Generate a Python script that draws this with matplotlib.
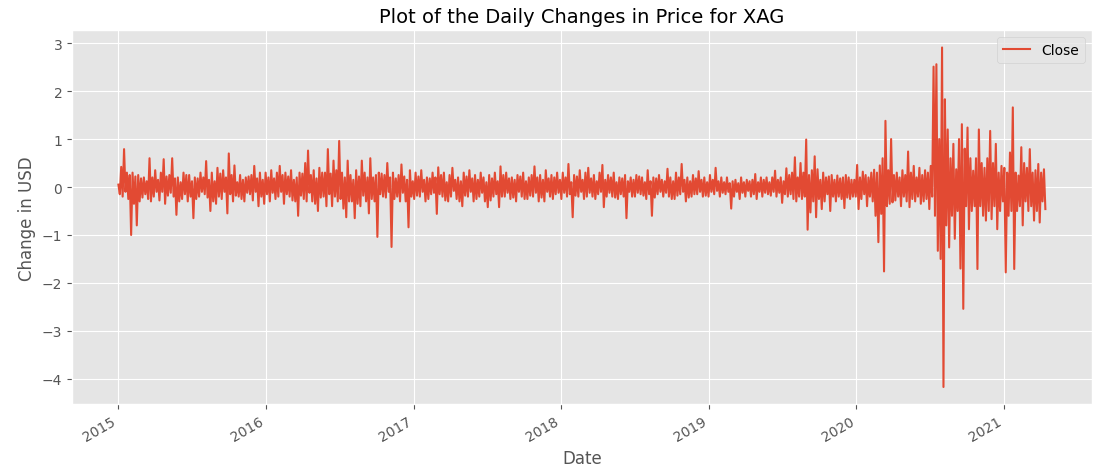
import matplotlib
matplotlib.use("Agg")
import matplotlib.pyplot as plt
import matplotlib.dates as mdates
import pandas as pd

plt.style.use("ggplot")

title = "Plot of the Daily Changes in Price for XAG"
xlabel = "Date"
ylabel = "Change in USD"
series_name = "Close"
start_date = "2015-01-02"
step = "84h"

y2015 = [0.05, -0.15, 0.42, -0.20, 0.79, -0.10, 0.30, -0.25, 0.25, -1.00,
         0.30, -0.35, 0.22, -0.80, 0.25, -0.30, 0.18, -0.22, 0.20, -0.15,
         0.12, -0.25, 0.60, -0.30, 0.20, -0.20, 0.35, -0.10, 0.15, -0.28,
         0.30, -0.10, 0.58, -0.35, 0.22, -0.18, 0.25, -0.12, 0.60, -0.20,
         0.18, -0.58, 0.20, -0.30, 0.10, -0.25, 0.30, -0.15, 0.25, -0.30,
         0.25, -0.20, 0.12, -0.65, 0.20, -0.25, 0.18, -0.20, 0.30, -0.10,
         0.20, -0.15, 0.54, -0.22, 0.15, -0.50, 0.30, -0.30, 0.12, -0.35,
         0.40, -0.20, 0.28, -0.25, 0.35, -0.10, 0.20, -0.55, 0.70, -0.15,
         0.25, -0.30, 0.45, -0.18, 0.10, -0.20, 0.25, -0.25, 0.15, -0.30,
         0.20, -0.12, 0.22, -0.15, 0.25, -0.28, 0.44, -0.10, 0.18, -0.40,
         0.30, -0.20, 0.15, -0.35]
y2016 = [0.30, -0.15, 0.20, -0.30, 0.35, -0.12, 0.18, -0.25, 0.30, -0.20,
         0.44, -0.10, 0.25, -0.35, 0.30, -0.15, 0.22, -0.20, 0.35, -0.28,
         0.15, -0.30, 0.20, -0.60, 0.30, -0.18, 0.28, -0.25, 0.50, -0.30,
         0.76, -0.12, 0.25, -0.30, 0.35, -0.35, 0.18, -0.50, 0.40, -0.22,
         0.30, -0.20, 0.30, -0.40, 0.79, -0.15, 0.28, -0.40, 0.55, -0.20,
         0.35, -0.30, 0.96, -0.25, 0.30, -0.45, 0.20, -0.63, 0.55, -0.30,
         0.25, -0.30, 0.15, -0.65, 0.35, -0.35, 0.22, -0.40, 0.55, -0.18,
         0.30, -0.30, 0.20, -0.55, 0.60, -0.25, 0.20, -0.30, 0.25, -1.04,
         0.30, -0.15, 0.28, -0.20, 0.25, -0.22, 0.50, -0.10, 0.20, -1.25,
         0.30, -0.25, 0.18, -0.20, 0.25, -0.30, 0.47, -0.12, 0.22, -0.30,
         0.15, -0.84, 0.35, -0.20]
y2017 = [0.12, -0.25, 0.30, -0.18, 0.22, -0.20, 0.35, -0.10, 0.15, -0.30,
         0.20, -0.25, 0.18, -0.15, 0.30, -0.12, 0.20, -0.56, 0.41, -0.15,
         0.25, -0.20, 0.30, -0.28, 0.10, -0.30, 0.25, -0.20, 0.40, -0.08,
         0.15, -0.25, 0.20, -0.30, 0.12, -0.40, 0.30, -0.18, 0.22, -0.20,
         0.35, -0.10, 0.18, -0.30, 0.25, -0.25, 0.15, -0.20, 0.30, -0.12,
         0.20, -0.30, 0.10, -0.42, 0.25, -0.28, 0.18, -0.20, 0.30, -0.15,
         0.12, -0.42, 0.43, -0.20, 0.25, -0.20, 0.30, -0.12, 0.18, -0.25,
         0.20, -0.22, 0.15, -0.30, 0.25, -0.10, 0.22, -0.20, 0.30, -0.25,
         0.12, -0.25, 0.20, -0.18, 0.25, -0.20, 0.43, -0.12, 0.20, -0.30,
         0.25, -0.22, 0.15, -0.30, 0.35, -0.10, 0.18, -0.20, 0.25, -0.25,
         0.20, -0.15, 0.30, -0.12]
y2018 = [0.15, -0.25, 0.30, -0.12, 0.20, -0.20, 0.48, -0.15, 0.10, -0.63,
         0.25, -0.18, 0.22, -0.20, 0.35, -0.10, 0.15, -0.25, 0.30, -0.20,
         0.40, -0.12, 0.18, -0.20, 0.25, -0.25, 0.12, -0.15, 0.30, -0.10,
         0.46, -0.42, 0.15, -0.20, 0.25, -0.12, 0.20, -0.20, 0.30, -0.22,
         0.10, -0.25, 0.20, -0.15, 0.18, -0.20, 0.25, -0.65, 0.12, -0.10,
         0.20, -0.20, 0.15, -0.20, 0.25, -0.12, 0.22, -0.15, 0.20, -0.18,
         0.10, -0.25, 0.35, -0.15, 0.12, -0.60, 0.20, -0.22, 0.18, -0.15,
         0.25, -0.10, 0.15, -0.20, 0.12, -0.12, 0.38, -0.20, 0.20, -0.25,
         0.12, -0.25, 0.30, -0.18, 0.20, -0.15, 0.48, -0.10, 0.15, -0.30,
         0.20, -0.22, 0.12, -0.20, 0.25, -0.15, 0.18, -0.15, 0.33, -0.10,
         0.15, -0.20, 0.20, -0.18]
y2019 = [0.10, -0.20, 0.25, -0.10, 0.15, -0.15, 0.40, -0.08, 0.12, -0.20,
         0.20, -0.12, 0.10, -0.15, 0.20, -0.10, 0.08, -0.45, 0.12, -0.20,
         0.15, -0.10, 0.08, -0.25, 0.20, -0.12, 0.10, -0.20, 0.15, -0.08,
         0.12, -0.20, 0.15, -0.15, 0.27, -0.25, 0.10, -0.10, 0.20, -0.20,
         0.15, -0.12, 0.20, -0.15, 0.10, -0.18, 0.20, -0.10, 0.34, -0.20,
         0.15, -0.12, 0.20, -0.33, 0.12, -0.15, 0.39, -0.20, 0.25, -0.15,
         0.30, -0.25, 0.62, -0.30, 0.20, -0.20, 0.50, -0.25, 0.30, -0.20,
         0.99, -0.89, 0.25, -0.53, 0.35, -0.30, 0.64, -0.63, 0.37, -0.25,
         0.15, -0.46, 0.30, -0.30, 0.20, -0.15, 0.22, -0.50, 0.25, -0.20,
         0.15, -0.30, 0.24, -0.20, 0.18, -0.25, 0.20, -0.44, 0.25, -0.22,
         0.20, -0.25, 0.15, -0.20]
y2020 = [0.15, -0.20, 0.46, -0.46, 0.20, -0.25, 0.32, -0.15, 0.25, -0.40,
         0.20, -0.20, 0.30, -0.30, 0.36, -0.60, 0.30, -1.15, 0.45, -0.56,
         0.60, -1.76, 1.38, -0.40, 0.35, -0.35, 1.00, -0.32, 0.25, -0.28,
         0.30, -0.20, 0.20, -0.40, 0.35, -0.20, 0.25, -0.30, 0.74, -0.42,
         0.30, -0.25, 0.44, -0.30, 0.20, -0.20, 0.40, -0.35, 0.25, -0.30,
         0.35, -0.25, 0.30, -0.46, 0.44, -0.20, 2.51, -0.60, 2.56, -1.33,
         1.00, -1.50, 2.91, -4.17, 1.83, -0.80, 1.20, -1.26, 0.60, -0.60,
         0.90, -1.08, 0.37, -0.50, 1.00, -1.70, 1.31, -2.54, 0.80, -0.40,
         1.24, -0.88, 0.60, -0.50, 0.34, -0.40, 0.60, -1.71, 1.20, -0.40,
         0.50, -0.60, 0.40, -0.70, 0.60, -0.50, 1.17, -0.67, 0.50, -0.40,
         0.90, -0.88, 0.30, -0.50, 0.44, -0.30]
y2021 = [0.40, -1.78, 0.30, -0.60, 0.72, -0.50, 1.66, -1.71, 0.30, -0.50,
         0.24, -0.40, 0.83, -0.80, 0.50, -0.30, 0.40, -0.50, 0.79, -0.40,
         0.30, -0.70, 0.35, -0.50, 0.48, -0.74, 0.30, -0.30, 0.37, -0.46]

values = y2015 + y2016 + y2017 + y2018 + y2019 + y2020 + y2021
dates = pd.date_range(start_date, periods=len(values), freq=step)

fig = plt.figure(figsize=(10.95, 4.77), dpi=100)
ax = fig.add_axes([0.0658, 0.151, 0.9312, 0.783])
ax.plot(dates, values, color="#E24A33", linewidth=1.5, label=series_name)

ax.set_title(title, fontsize=14, color="black")
ax.set_xlabel(xlabel, fontsize=12)
ax.set_ylabel(ylabel, fontsize=12)
ax.xaxis.set_major_locator(mdates.YearLocator())
ax.xaxis.set_major_formatter(mdates.DateFormatter("%Y"))
for lbl in ax.get_xticklabels():
    lbl.set_rotation(30)
    lbl.set_ha("right")
ax.tick_params(labelsize=10)
ax.legend(loc="upper right", fontsize=10)

fig.savefig("out.png", dpi=100)
